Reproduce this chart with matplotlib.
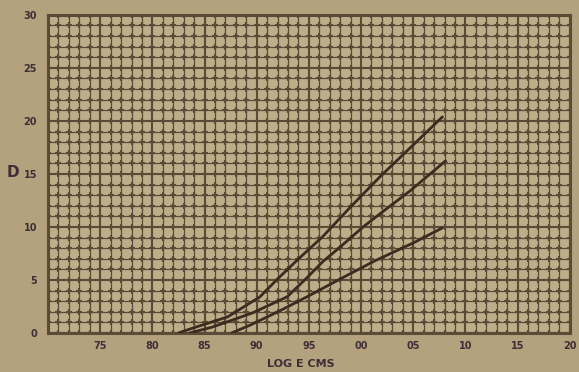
import numpy as np
import matplotlib
matplotlib.use("Agg")
import matplotlib.pyplot as plt

# Characteristic curves: density D against log exposure (E in c.m.s.)
log_e_fast = [8.25, 8.39, 8.72, 9.03, 9.19, 9.39, 9.63, 9.89, 10.18, 10.47, 10.78]
d_fast = [0.0, 0.47, 1.51, 3.40, 5.00, 6.89, 9.06, 11.79, 14.72, 17.45, 20.38]

log_e_mid = [8.36, 8.58, 8.96, 9.29, 9.48, 9.63, 9.80, 10.02, 10.18, 10.47, 10.81]
d_mid = [0.0, 0.57, 1.89, 3.40, 5.19, 6.70, 8.11, 10.00, 11.23, 13.40, 16.23]

log_e_slow = [8.76, 8.94, 9.22, 9.48, 9.80, 10.13, 10.50, 10.78]
d_slow = [0.0, 0.75, 2.08, 3.40, 5.09, 6.79, 8.49, 9.91]

x_ticks = [7.5, 8.0, 8.5, 9.0, 9.5, 10.0, 10.5, 11.0, 11.5, 12.0]
x_tick_labels = ["75", "80", "85", "90", "95", "00", "05", "10", "15", "20"]
y_ticks = [0, 5, 10, 15, 20, 25, 30]
y_tick_labels = ["0", "5", "10", "15", "20", "25", "30"]

paper = "#b4a17e"
sheet = "#bdae8a"
ink = "#5b4a36"
label_ink = "#3e2f36"

fig = plt.figure(figsize=(5.79, 3.72), dpi=100, facecolor=paper)
ax = fig.add_axes([0.083, 0.105, 0.901, 0.855], facecolor=sheet)
ax.set_xlim(7.0, 12.0)
ax.set_ylim(0, 30)

# graph-paper ruling: fine lines every 0.1 / 1, heavier every 0.5 / 5
xs = np.round(np.arange(7.0, 12.0001, 0.1), 2)
ys = np.arange(0, 31, 1)
for xv in xs:
    major = abs(xv * 2 - round(xv * 2)) < 1e-6
    ax.axvline(xv, color=ink, lw=1.5 if major else 0.9, zorder=1)
for yv in ys:
    major = yv % 5 == 0
    ax.axhline(yv, color=ink, lw=1.5 if major else 0.9, zorder=1)
gx, gy = np.meshgrid(xs, ys)
ax.scatter(gx.ravel(), gy.ravel(), marker="+", s=18, linewidths=1.5,
           color=ink, zorder=2)

curve_color = "#3b2c20"
ax.plot(log_e_fast, d_fast, color=curve_color, lw=2.0, zorder=3,
        solid_capstyle="round")
ax.plot(log_e_mid, d_mid, color=curve_color, lw=2.0, zorder=3,
        solid_capstyle="round")
ax.plot(log_e_slow, d_slow, color=curve_color, lw=2.0, zorder=3,
        solid_capstyle="round")

for side in ["left", "bottom", "right", "top"]:
    ax.spines[side].set_color(ink)
    ax.spines[side].set_linewidth(2.2)

ax.set_xticks(x_ticks)
ax.set_xticklabels(x_tick_labels)
ax.set_yticks(y_ticks)
ax.set_yticklabels(y_tick_labels)
ax.tick_params(axis="x", length=0, pad=6, labelcolor=label_ink)
ax.tick_params(axis="y", length=0, pad=8, labelcolor=label_ink)
for lab in ax.get_xticklabels() + ax.get_yticklabels():
    lab.set_fontweight("bold")
    lab.set_fontsize(7)

fig.text(0.022, 0.535, "D", fontsize=11, fontweight="bold", color=label_ink,
         ha="center", va="center")
fig.text(0.52, 0.022, "LOG E CMS", fontsize=8, fontweight="bold",
         color=label_ink, ha="center", va="center")

fig.savefig("out.png", dpi=100, facecolor=paper)
